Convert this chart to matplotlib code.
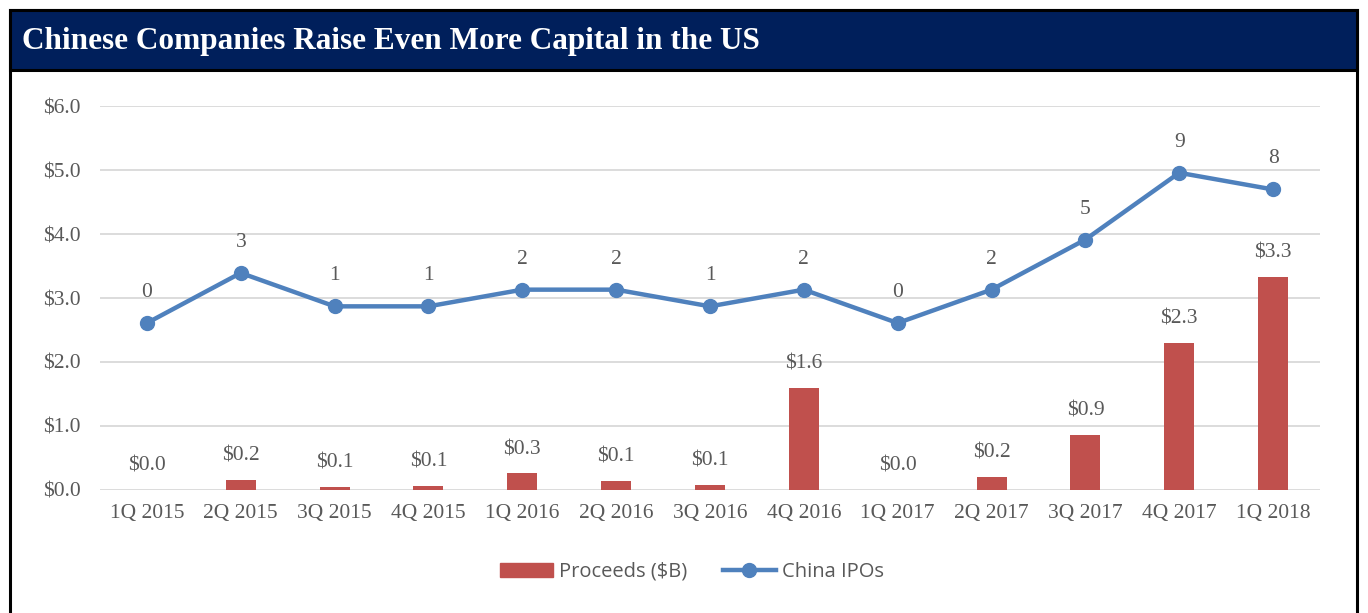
import matplotlib.pyplot as plt
from matplotlib.patches import Rectangle
from matplotlib.lines import Line2D

# data
quarters = ['1Q 2015', '2Q 2015', '3Q 2015', '4Q 2015', '1Q 2016', '2Q 2016', '3Q 2016',
            '4Q 2016', '1Q 2017', '2Q 2017', '3Q 2017', '4Q 2017', '1Q 2018']
proceeds = [0.0, 0.16, 0.05, 0.07, 0.26, 0.14, 0.08, 1.60, 0.0, 0.21, 0.86, 2.30, 3.33]
ipos = [0, 3, 1, 1, 2, 2, 1, 2, 0, 2, 5, 9, 8]

red = '#C0504D'
blue = '#4F81BD'
navy = '#001F5B'
grey = '#595959'
serif = 'Liberation Serif'
fs = 15.5

fig = plt.figure(figsize=(13.68, 6.13), dpi=100)

# outer frame and title band
fig.patches.append(Rectangle((10/1368, -0.01), 1347/1368, 1.0 - 10/613 + 0.01,
                             transform=fig.transFigure, fill=False, edgecolor='black', lw=2.2))
fig.patches.append(Rectangle((10/1368, 1 - 70/613), 1347/1368, 60/613,
                             transform=fig.transFigure, facecolor=navy, edgecolor='black', lw=2.2))
fig.text(22/1368, 1 - 41/613, 'Chinese Companies Raise Even More Capital in the US',
         color='white', fontsize=22.5, fontweight='bold', family=serif, va='center', ha='left')

ax = fig.add_axes([100/1368, 1 - 490/613, 1220/1368, 384/613])
x = list(range(len(quarters)))
ax.bar(x, proceeds, width=0.32, color=red, zorder=2)
ax.set_ylim(0, 6)
ax.set_xlim(-0.5, 12.5)
ax.set_yticks([0, 1, 2, 3, 4, 5, 6])
ax.set_yticklabels(['$%.1f' % v for v in [0, 1, 2, 3, 4, 5, 6]])
ax.set_xticks(x)
ax.set_xticklabels(quarters)
ax.grid(axis='y', color='#D9D9D9', lw=1.3, zorder=0)
for s in ax.spines.values():
    s.set_visible(False)
ax.tick_params(length=0, labelsize=fs, labelcolor=grey, pad=10)
ax.tick_params(axis='y', pad=14)
for lab in ax.get_xticklabels() + ax.get_yticklabels():
    lab.set_family(serif)

for xi, v in zip(x, proceeds):
    ax.annotate('$%.1f' % v, (xi, v), xytext=(0, 17), textcoords='offset points',
                ha='center', va='center', fontsize=fs, color=grey, family=serif)

# IPO count on a hidden secondary axis
ax2 = ax.twinx()
ax2.set_ylim(-10, 13)
ax2.plot(x, ipos, color=blue, lw=3.2, marker='o', markersize=10, zorder=3)
ax2.axis('off')
for xi, n in zip(x, ipos):
    ax2.annotate(str(n), (xi, n), xytext=(0, 22), textcoords='offset points',
                 ha='center', va='center', fontsize=fs, color=grey, family=serif)

handles = [Rectangle((0, 0), 1, 1, color=red),
           Line2D([], [], color=blue, lw=3.2, marker='o', markersize=10)]
fig.legend(handles, ['Proceeds ($B)', 'China IPOs'], loc='center',
           bbox_to_anchor=(692/1368, 1 - 572/613), ncol=2, frameon=False,
           prop={'family': 'Open Sans', 'size': 14.5}, labelcolor=grey,
           handlelength=2.6, handletextpad=0.3, columnspacing=1.8)

plt.savefig('out.png', dpi=100)
